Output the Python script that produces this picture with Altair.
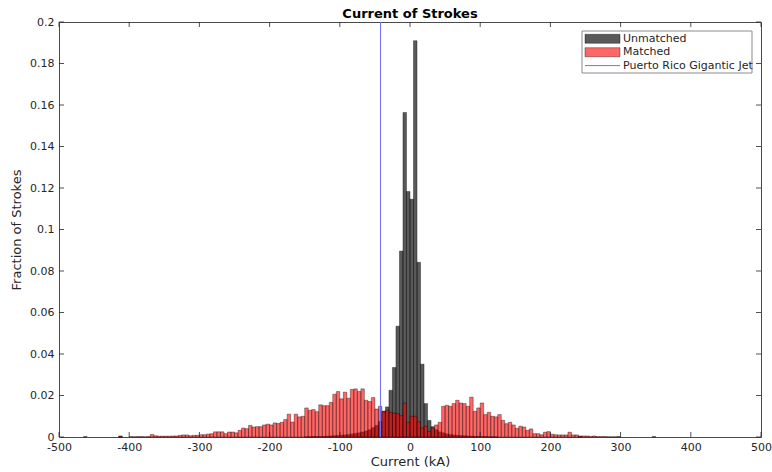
import altair as alt
import pandas as pd

# Histogram bin width (kA)
BIN = 5

# Unmatched strokes: fraction per 5 kA bin, first bin starts at -150 kA
unmatched_start = -150
unmatched = [
    0.0001, 0.0001, 0.0002, 0.0002, 0.0002,
    0.0003, 0.0004, 0.0005, 0.0006, 0.0007,
    0.0009, 0.0010, 0.0012, 0.0015, 0.0017,
    0.0020, 0.0024, 0.0029, 0.0035, 0.0045,
    0.0056, 0.0075, 0.0125, 0.0145, 0.0225,
    0.0335, 0.0534, 0.0896, 0.1564, 0.1183,
    0.1146, 0.1910, 0.0842, 0.0351, 0.0161,
    0.0080, 0.0050, 0.0035, 0.0025, 0.0020,
    0.0015, 0.0012, 0.0010, 0.0008, 0.0007,
    0.0006, 0.0005, 0.0004, 0.0003, 0.0003,
    0.0002, 0.0002, 0.0001, 0.0001, 0.0001,
]
# isolated unmatched bins far out in the tails (left edge, fraction)
unmatched_tail_edges = [-465, -415, 240, 295, 345]
unmatched_tail_values = [0.0002, 0.0004, 0.0002, 0.0002, 0.0002]

# Matched strokes: fraction per 5 kA bin, first bin starts at -415 kA
matched_start = -415
matched = [
    0.0004, 0.0, 0.0,
    0.0002, 0.0001, 0.0002, 0.0002, 0.0001, 0.0002,
    0.0012,
    0.0006, 0.0004, 0.0004, 0.0004, 0.0004,
    0.0005, 0.0005, 0.0008, 0.0010, 0.0010,
    0.0006, 0.0008, 0.0008, 0.0011, 0.0011,
    0.0014, 0.0016, 0.0025, 0.0025, 0.0025,
    0.0016, 0.0024, 0.0024, 0.0020, 0.0032,
    0.0043, 0.0040, 0.0056, 0.0048, 0.0050,
    0.0050, 0.0058, 0.0062, 0.0058, 0.0068,
    0.0065, 0.0071, 0.0084, 0.0110, 0.0072,
    0.0110, 0.0097, 0.0100, 0.0140, 0.0129,
    0.0132, 0.0122, 0.0155, 0.0151, 0.0151,
    0.0167, 0.0206, 0.0219, 0.0184, 0.0216,
    0.0187, 0.0229, 0.0232, 0.0219, 0.0232,
    0.0177, 0.0171, 0.0190, 0.0135, 0.0148,
    0.0121, 0.0129, 0.0119, 0.0116, 0.0113,
    0.0103, 0.0164, 0.0071, 0.0100, 0.0100,
    0.0074, 0.0043, 0.0052, 0.0027, 0.0043,
    0.0058, 0.0071, 0.0148, 0.0153, 0.0148,
    0.0161, 0.0177, 0.0164, 0.0161, 0.0148,
    0.0192, 0.0124, 0.0140, 0.0164, 0.0108,
    0.0119, 0.0100, 0.0097, 0.0108, 0.0080,
    0.0064, 0.0071, 0.0058, 0.0042, 0.0052,
    0.0048, 0.0032, 0.0039, 0.0016, 0.0016,
    0.0011, 0.0023, 0.0026, 0.0013, 0.0011,
    0.0010, 0.0010, 0.0010, 0.0023, 0.0010,
    0.0010, 0.0005, 0.0005, 0.0005, 0.0003,
    0.0005, 0.0002, 0.0002, 0.0002, 0.0001,
    0.0001, 0.0001,
]

# Current of the Puerto Rico gigantic jet (kA)
jet_current = -42

x_ticks = [-500, -400, -300, -200, -100, 0, 100, 200, 300, 400, 500]
y_ticks = [0, 0.02, 0.04, 0.06, 0.08, 0.1, 0.12, 0.14, 0.16, 0.18, 0.2]

legend_labels = ["Unmatched", "Matched", "Puerto Rico Gigantic Jet"]

W, H = 702, 415
FONT = "DejaVu Sans"


def bins(start, values):
    left = [start + BIN * i for i in range(len(values))]
    return pd.DataFrame({"left": left, "right": [v + BIN for v in left], "frac": values})


df_un = pd.concat([
    bins(unmatched_start, unmatched),
    pd.DataFrame({
        "left": unmatched_tail_edges,
        "right": [e + BIN for e in unmatched_tail_edges],
        "frac": unmatched_tail_values,
    }),
])
df_ma = bins(matched_start, matched)
df_ma = df_ma[df_ma["frac"] > 0]

x_scale = alt.Scale(domain=[-500, 500], nice=False, zero=False, padding=0)
y_scale = alt.Scale(domain=[0, 0.2], nice=False, padding=0)

x_axis = alt.Axis(
    values=x_ticks, ticks=False, domain=False, grid=False, labelFlush=False,
    labelExpr="'' + datum.value", labelFontSize=11, labelPadding=4,
    labelColor="#262626", title="Current (kA)", titleFontSize=13,
    titleFontWeight="normal", titlePadding=3, titleColor="#262626",
)
y_axis = alt.Axis(
    values=y_ticks, ticks=False, domain=False, grid=False, labelFlush=False,
    labelExpr="'' + datum.value", labelFontSize=11, labelPadding=5,
    labelColor="#262626", title="Fraction of Strokes", titleFontSize=13,
    titleFontWeight="normal", titlePadding=6, titleColor="#262626",
)

bar_style = dict(stroke="black", strokeWidth=0.6, strokeOpacity=0.6)

unmatched_bars = alt.Chart(df_un).mark_rect(
    fill="black", fillOpacity=0.65, **bar_style
).encode(
    x=alt.X("left:Q", scale=x_scale, axis=x_axis),
    x2="right:Q",
    y=alt.Y("frac:Q", scale=y_scale, axis=y_axis),
    y2=alt.datum(0),
)

matched_bars = alt.Chart(df_ma).mark_rect(
    fill="#ff0000", fillOpacity=0.6, **bar_style
).encode(
    x=alt.X("left:Q", scale=x_scale),
    x2="right:Q",
    y=alt.Y("frac:Q", scale=y_scale),
    y2=alt.datum(0),
)

jet_line = alt.Chart(pd.DataFrame({"kA": [jet_current]})).mark_rule(
    color="#6e6eff", strokeWidth=1
).encode(x=alt.X("kA:Q", scale=x_scale))

# inward tick marks on all four sides of the box
TICK = 5
tick_col = "#262626"
xt = pd.DataFrame({"t": x_ticks})
yt = pd.DataFrame({"t": y_ticks})
ticks_bottom = alt.Chart(xt).mark_rule(color=tick_col, strokeWidth=0.8).encode(
    x=alt.X("t:Q", scale=x_scale), y=alt.value(H), y2=alt.value(H - TICK))
ticks_top = alt.Chart(xt).mark_rule(color=tick_col, strokeWidth=0.8).encode(
    x=alt.X("t:Q", scale=x_scale), y=alt.value(0), y2=alt.value(TICK))
ticks_left = alt.Chart(yt).mark_rule(color=tick_col, strokeWidth=0.8).encode(
    y=alt.Y("t:Q", scale=y_scale), x=alt.value(0), x2=alt.value(TICK))
ticks_right = alt.Chart(yt).mark_rule(color=tick_col, strokeWidth=0.8).encode(
    y=alt.Y("t:Q", scale=y_scale), x=alt.value(W), x2=alt.value(W - TICK))

# legend box in the upper right corner
LX0, LX1, LY0, LY1 = 523, 693, 9, 51
one = pd.DataFrame({"k": [0]})
legend_box = alt.Chart(one).mark_rect(
    fill="white", stroke="#8c8c8c", strokeWidth=1
).encode(x=alt.value(LX0), x2=alt.value(LX1), y=alt.value(LY0), y2=alt.value(LY1))

SW0, SW1 = 526, 561
rows = [16.8, 30.2, 43.6]
legend_layers = [legend_box]
legend_layers.append(alt.Chart(one).mark_rect(
    fill="black", fillOpacity=0.65, **bar_style
).encode(x=alt.value(SW0), x2=alt.value(SW1),
         y=alt.value(rows[0] - 4.5), y2=alt.value(rows[0] + 4.5)))
legend_layers.append(alt.Chart(one).mark_rect(
    fill="#ff0000", fillOpacity=0.6, **bar_style
).encode(x=alt.value(SW0), x2=alt.value(SW1),
         y=alt.value(rows[1] - 4.5), y2=alt.value(rows[1] + 4.5)))
legend_layers.append(alt.Chart(one).mark_rule(
    color="#6e6eff", strokeWidth=1
).encode(x=alt.value(SW0), x2=alt.value(SW1), y=alt.value(rows[2])))
for label, ry in zip(legend_labels, rows):
    legend_layers.append(alt.Chart(one).mark_text(
        text=label, align="left", baseline="middle", font=FONT,
        fontSize=11, color="#262626"
    ).encode(x=alt.value(564), y=alt.value(ry)))

chart = alt.layer(
    unmatched_bars, matched_bars, jet_line,
    ticks_bottom, ticks_top, ticks_left, ticks_right,
    *legend_layers,
).properties(
    width=W, height=H,
    title=alt.TitleParams("Current of Strokes", fontSize=13, fontWeight="bold",
                          anchor="middle", font=FONT, color="black",
                          frame="group", offset=4, dy=9),
    padding={"left": 59, "top": 22, "right": 11, "bottom": 35},
    autosize=alt.AutoSizeParams(type="none"),
    background="white",
).configure_view(
    stroke="#4a4a4a", strokeWidth=1
).configure_axis(
    labelFont=FONT, titleFont=FONT
)

chart.save("out.html", embed_options={"renderer": "svg", "actions": False})
